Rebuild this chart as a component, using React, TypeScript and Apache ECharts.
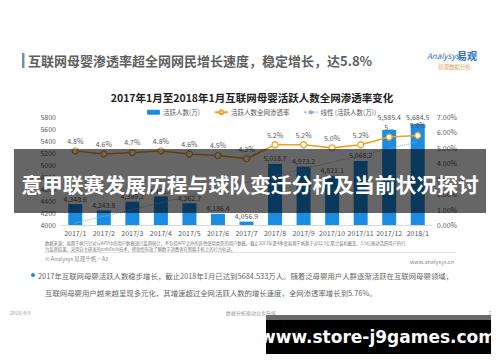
import React, { useEffect, useRef } from 'react';
import * as echarts from 'echarts';

const categories = ['2017/1', '2017/2', '2017/3', '2017/4', '2017/5', '2017/6', '2017/7', '2017/8', '2017/9', '2017/10', '2017/11', '2017/12', '2018/1'];
const activeUsers = [4348.6, 4243.8, 4389.2, 4475.8, 4362.7, 4186.4, 4056.9, 5018.7, 4973.2, 4821.1, 5068.2, 5585.4, 5684.5];
const penetrationRate = [4.8, 4.6, 4.7, 4.8, 4.6, 4.5, 4.3, 5.2, 5.2, 5.0, 5.2, 5.7, 5.8];
const trendLine = [4033, null, null, null, null, null, null, null, null, null, null, null, 5385];
const rateLabels = ['4.8%', '4.6%', '4.7%', '4.8%', '4.6%', '4.5%', '4.3%', '5.2%', '5.2%', '5.0%', '5.2%', '5...', '5.8%'];
const leftAxis = { min: 4000, max: 5800, interval: 200 };
const rightAxis = { min: 0, max: 7, interval: 1 };

const FONT = '"Noto Sans CJK SC", "Noto Sans", sans-serif';

export default function App() {
  const ref = useRef<HTMLDivElement>(null);
  useEffect(() => {
    if (!ref.current) return;
    const chart = echarts.init(ref.current, undefined, { renderer: 'svg' });
    const grey = '#595959';
    const option: any = {
      animation: false,
      backgroundColor: '#ffffff',
      textStyle: { fontFamily: FONT },
      grid: { left: 61, right: 68, top: 117, bottom: 137, containLabel: false },
      legend: {
        left: 142,
        top: 104,
        itemWidth: 13,
        itemHeight: 5,
        itemGap: 14,
        textStyle: { fontSize: 6.5, color: grey, fontFamily: FONT, padding: [0, 0, 0, -2] },
        data: ['活跃人数(万)', '活跃人数全网渗透率', '线性 (活跃人数(万))'],
      },
      xAxis: {
        type: 'category',
        data: categories,
        axisLine: { show: true, lineStyle: { color: '#d9d9d9' } },
        axisTick: { show: false },
        axisLabel: { fontSize: 7, color: grey, margin: 4, interval: 0 },
      },
      yAxis: [
        {
          type: 'value',
          min: leftAxis.min,
          max: leftAxis.max,
          interval: leftAxis.interval,
          axisLine: { show: false },
          axisTick: { show: false },
          splitLine: { show: false },
          axisLabel: { fontSize: 7, color: grey, margin: 5, formatter: (v: number) => String(v) },
        },
        {
          type: 'value',
          min: rightAxis.min,
          max: rightAxis.max,
          interval: rightAxis.interval,
          axisLine: { show: false },
          axisTick: { show: false },
          splitLine: { show: false },
          axisLabel: { fontSize: 7, color: grey, margin: 5, formatter: (v: number) => v.toFixed(2) + '%' },
        },
      ],
      series: [
        {
          name: '活跃人数(万)',
          type: 'bar',
          yAxisIndex: 0,
          barWidth: 14,
          color: '#1a8ce2',
          clip: true,
          data: activeUsers.map((v, i) => ({
            value: v,
            label: i === 11 ? { distance: 9 } : i === 12 ? { distance: 3 } : undefined,
          })),
          label: {
            show: true,
            position: 'top',
            distance: 2,
            fontSize: 7,
            color: grey,
            formatter: (p: any) => Number(p.value).toLocaleString('en-US', { minimumFractionDigits: 1, maximumFractionDigits: 1 }),
          },
        },
        {
          name: '活跃人数全网渗透率',
          type: 'line',
          yAxisIndex: 1,
          data: penetrationRate,
          symbol: 'circle',
          symbolSize: 6,
          color: '#f0a020',
          lineStyle: { color: '#f0a020', width: 1.6 },
          itemStyle: { color: '#ffffff', borderColor: '#f0a020', borderWidth: 1.3 },
          label: {
            show: true,
            position: 'top',
            distance: 3,
            fontSize: 7,
            color: grey,
            formatter: (p: any) => rateLabels[p.dataIndex],
          },
          z: 4,
        },
        {
          name: '线性 (活跃人数(万))',
          type: 'line',
          yAxisIndex: 0,
          data: trendLine,
          connectNulls: true,
          symbol: 'none',
          color: '#8aaed8',
          lineStyle: { color: '#8aaed8', width: 1, type: 'dotted' },
          z: 3,
        },
      ],
      graphic: [
        { type: 'rect', shape: { x: 22, y: 53, width: 2.5, height: 15 }, style: { fill: '#6f8fb3' } },
        {
          type: 'text', x: 28, y: 60,
          style: { text: '互联网母婴渗透率超全网网民增长速度，稳定增长，达5.8%', fontSize: 13, fontWeight: 'bold', fill: '#5f5f5f', fontFamily: FONT, verticalAlign: 'middle' },
        },
        {
          type: 'text', x: 427, y: 55,
          style: { text: 'Analysys', fontSize: 8, fontStyle: 'italic', fill: '#2a6fc0', fontFamily: FONT, verticalAlign: 'middle' },
        },
        {
          type: 'text', x: 457, y: 55,
          style: { text: '易观', fontSize: 10, fontWeight: 'bold', fill: '#2a6fc0', fontFamily: FONT, verticalAlign: 'middle' },
        },
        {
          type: 'text', x: 438, y: 67,
          style: { text: '易观数据分析', fontSize: 5.5, fill: '#e0a050', fontFamily: FONT, verticalAlign: 'middle' },
        },
        {
          type: 'text', x: 252, y: 97,
          style: { text: '2017年1月至2018年1月互联网母婴活跃人数全网渗透率变化', fontSize: 10.5, fontWeight: 'bold', fill: '#222222', fontFamily: FONT, align: 'center', verticalAlign: 'middle' },
        },
        {
          type: 'text', x: 45, y: 243,
          style: { text: '数据来源：易观千帆只针对以APP中的用户数据进行监测统计，不包括APP之外的其他使用类型的用户数据。截止2017年第4季度易观千帆基于对22.5亿累计装机覆盖、5.5亿移动活跃用户的行', fontSize: 4.3, fill: '#777777', fontFamily: FONT, verticalAlign: 'middle' },
        },
        {
          type: 'text', x: 45, y: 248.5,
          style: { text: '为监测结果，采用自主研发的enfoTech技术，帮助您有效了解数字消费者在智能手机上的行为轨迹。', fontSize: 4.3, fill: '#777777', fontFamily: FONT, verticalAlign: 'middle' },
        },
        { type: 'line', shape: { x1: 44, y1: 252.5, x2: 456, y2: 252.5 }, style: { stroke: '#e3e3e3', lineWidth: 1 } },
        {
          type: 'text', x: 45, y: 259,
          style: { text: '© Analysys 易观千帆·A3', fontSize: 5.5, fill: '#888888', fontFamily: FONT, verticalAlign: 'middle' },
        },
        {
          type: 'text', x: 454, y: 262,
          style: { text: 'www.analysys.cn', fontSize: 5.5, fill: '#888888', fontFamily: FONT, align: 'right', verticalAlign: 'middle' },
        },
        { type: 'circle', shape: { cx: 33, cy: 275, r: 2 }, style: { fill: '#1a8ce2' } },
        {
          type: 'text', x: 38, y: 275,
          style: { text: '2017年互联网母婴活跃人数稳步增长，截止2018年1月已达到5684.533万人。随着泛母婴用户人群逐渐活跃在互联网母婴领域，', fontSize: 7.4, fill: '#666666', fontFamily: FONT, verticalAlign: 'middle' },
        },
        {
          type: 'text', x: 45, y: 292,
          style: { text: '互联网母婴用户越来越呈现多元化，其增速超过全网活跃人数的增长速度，全网渗透率增长到5.76%。', fontSize: 7.4, fill: '#666666', fontFamily: FONT, verticalAlign: 'middle' },
        },
        {
          type: 'text', x: 10, y: 312,
          style: { text: '2018/4/9', fontSize: 5, fill: '#999999', fontFamily: FONT, verticalAlign: 'middle' },
        },
        {
          type: 'text', x: 251, y: 312,
          style: { text: '数据分析驱动业务升级', fontSize: 5, fill: '#999999', fontFamily: FONT, align: 'center', verticalAlign: 'middle' },
        },
        {
          type: 'text', x: 490, y: 312,
          style: { text: '7', fontSize: 5, fill: '#999999', fontFamily: FONT, align: 'center', verticalAlign: 'middle' },
        },
        { type: 'rect', z: 100, shape: { x: 14, y: 149, width: 472, height: 64 }, style: { fill: 'rgba(0,0,0,0.6)' } },
        {
          type: 'text', z: 101, x: 250, y: 184,
          style: { text: '意甲联赛发展历程与球队变迁分析及当前状况探讨', fontSize: 20.8, fontWeight: 'bold', fill: '#ffffff', fontFamily: FONT, align: 'center', verticalAlign: 'middle' },
        },
        { type: 'rect', z: 100, shape: { x: 266, y: 315, width: 225, height: 6 }, style: { fill: '#6a6a6a' } },
        { type: 'rect', z: 100, shape: { x: 266, y: 320, width: 225, height: 34 }, style: { fill: '#000000' } },
        {
          type: 'text', z: 101, x: 378, y: 337,
          style: { text: 'www.store-j9games.com', fontSize: 17, fontWeight: 'bold', fill: '#ffffff', fontFamily: '"DejaVu Sans", sans-serif', align: 'center', verticalAlign: 'middle' },
        },
      ],
    };
    chart.setOption(option);
    return () => chart.dispose();
  }, []);
  return <div ref={ref} style={{ position: 'fixed', left: 0, top: 0, width: 500, height: 362 }} />;
}
